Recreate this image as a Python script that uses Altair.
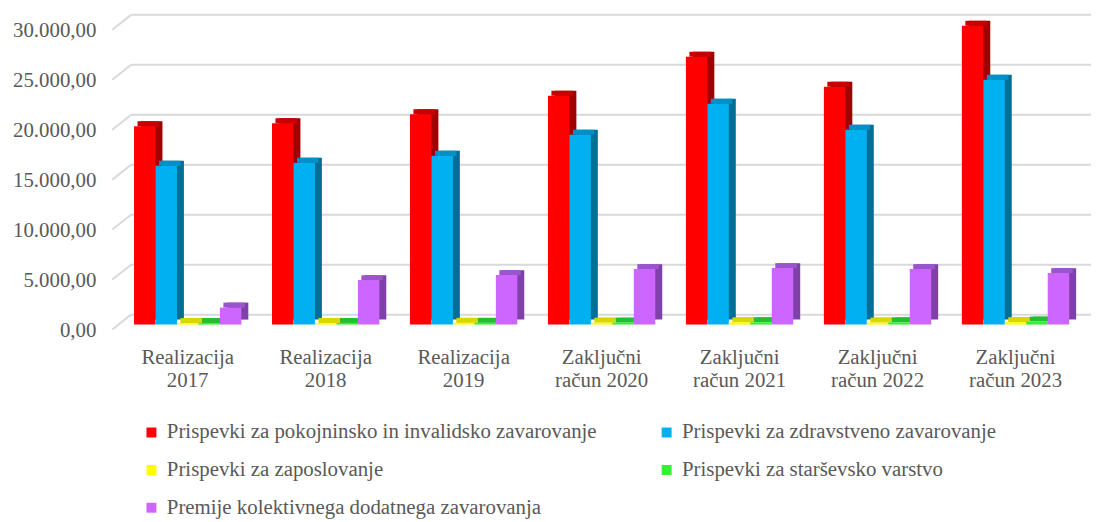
import altair as alt
import pandas as pd

categories = ["Realizacija|2017", "Realizacija|2018", "Realizacija|2019",
              "Zaključni|račun 2020", "Zaključni|račun 2021",
              "Zaključni|račun 2022", "Zaključni|račun 2023"]
series = ["Prispevki za pokojninsko in invalidsko zavarovanje",
          "Prispevki za zdravstveno zavarovanje",
          "Prispevki za zaposlovanje",
          "Prispevki za starševsko varstvo",
          "Premije kolektivnega dodatnega zavarovanja"]
pokojninsko = [19850, 20150, 21050, 22900, 26800, 23800, 29900]
zdravstveno = [15900, 16200, 16900, 19000, 22100, 19500, 24500]
zaposlovanje = [150, 160, 170, 190, 220, 200, 240]
starsevsko = [150, 160, 170, 190, 230, 220, 300]
premije = [1700, 4450, 4950, 5550, 5650, 5550, 5150]
y_ticks = [0, 5000, 10000, 15000, 20000, 25000, 30000]

front_colors = ["#FF0000", "#00B0F0", "#FFFF00", "#33F033", "#CC66FF"]
cap_colors = ["#C80000", "#0090C8", "#D8D800", "#22C030", "#9B55CC"]
side_colors = ["#A00000", "#006E96", "#B8B800", "#1EA02E", "#8040AA"]

# legend is filled column by column: order entries so rows read like the reference
legend_order = [0, 2, 4, 1, 3]
legend_domain = [series[i] for i in legend_order]
legend_range = [front_colors[i] for i in legend_order]

values = [pokojninsko, zdravstveno, zaposlovanje, starsevsko, premije]
rows = []
for i, c in enumerate(categories):
    for s, vals in zip(series, values):
        rows.append({"cat": c, "ser": s, "val": vals[i]})
df = pd.DataFrame(rows)
grid_df = pd.DataFrame({"v": y_ticks})

W, H = 986, 302
P_IN, P_OUT = 0.222, 0.158
step = W / (len(categories) - P_IN + 2 * P_OUT)
bw = step * (1 - P_IN)
DX, DY = 7, 5

FONT = "Liberation Serif"
TXT = "#595959"
FS = 21

yscale = alt.Scale(domain=[0, 30000], nice=False)

xenc = alt.X("cat:N", sort=categories,
             scale=alt.Scale(paddingInner=P_IN, paddingOuter=P_OUT),
             axis=alt.Axis(title=None, labelAngle=0, domain=False, ticks=False,
                           labelExpr="split(datum.label, '|')",
                           labelFont=FONT, labelFontSize=FS, labelColor=TXT,
                           labelPadding=22, labelLineHeight=23))
yenc = alt.Y("val:Q", scale=yscale, axis=None)

base = alt.Chart(df)

grid_h = alt.Chart(grid_df).mark_rule(color="#D9D9D9", strokeWidth=2, yOffset=-10).encode(
    y=alt.Y("v:Q", scale=yscale, axis=None),
    x=alt.value(19), x2=alt.value(W))
grid_d = alt.Chart(grid_df).mark_rule(color="#D9D9D9", strokeWidth=2, yOffset=5, y2Offset=-10).encode(
    y=alt.Y("v:Q", scale=yscale, axis=None),
    y2=alt.Y2("v"),
    x=alt.value(0), x2=alt.value(19))

ylabels = alt.Chart(grid_df).transform_calculate(
    lab="replace(replace(replace(format(datum.v, ',.2f'), ',', '#'), '.', ','), '#', '.')"
).mark_text(align="right", baseline="middle", dy=6.5, font=FONT, fontSize=FS, color=TXT).encode(
    y=alt.Y("v:Q", scale=yscale, axis=None),
    x=alt.value(-16),
    text="lab:N")

back = base.mark_bar(yOffset=-DY, y2Offset=-DY).encode(
    x=xenc, y=yenc,
    xOffset=alt.XOffset("ser:N", sort=series, scale=alt.Scale(range=[DX, bw + DX])),
    color=alt.Color("ser:N", scale=alt.Scale(domain=series, range=side_colors), legend=None))

cap = base.mark_bar(yOffset=-DY).encode(
    x=xenc,
    y=yenc,
    y2=alt.Y2("val"),
    xOffset=alt.XOffset("ser:N", sort=series, scale=alt.Scale(range=[3.5, bw + 3.5])),
    color=alt.Color("ser:N", scale=alt.Scale(domain=series, range=cap_colors), legend=None))

front = base.mark_bar().encode(
    x=xenc, y=yenc,
    xOffset=alt.XOffset("ser:N", sort=series, scale=alt.Scale(range=[0, bw])),
    color=alt.Color("ser:N", scale=alt.Scale(domain=legend_domain, range=legend_range),
                    legend=alt.Legend(title=None, orient="none", legendX=29, legendY=400,
                                      columns=2, columnPadding=59, rowPadding=16,
                                      symbolType="square", symbolSize=100,
                                      symbolStrokeWidth=0, labelOffset=5, padding=0,
                                      labelFont=FONT, labelFontSize=FS, labelColor=TXT,
                                      labelLimit=0)))

chart = alt.layer(grid_h, grid_d, ylabels, back, cap, front).resolve_scale(
    color="independent", xOffset="independent"
).properties(
    width=W, height=H,
    autosize=alt.AutoSizeParams(type="none"),
    padding={"left": 105, "top": 15, "right": 0, "bottom": 197}
).configure_view(stroke=None)

chart.save("out.html", embed_options={"renderer": "svg", "actions": False})
